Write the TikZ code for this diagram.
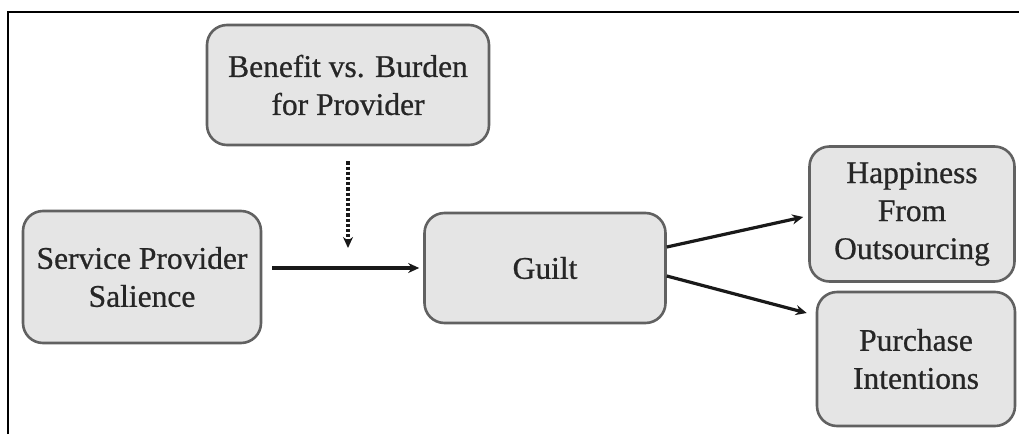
\documentclass[tikz,border=0pt]{standalone}
\usepackage{fontspec}
\setmainfont{Liberation Serif}
\newfontfamily\boxfont[FakeBold=0.7]{Liberation Serif}
\usetikzlibrary{
		calc,
		arrows.meta,
		positioning
	}
\tikzset{
		>={Stealth[length=11pt,width=10pt]},
		box/.style={draw=black!62,fill=black!10,line width=2.6pt,rounded corners=20pt,
			align=center,text=black!85,font=\boxfont\fontsize{31.5}{38}\selectfont,inner sep=0pt},
		arr/.style={->,line width=3.2pt,black!90}
	}
\begin{document}
\begin{tikzpicture}[x=1pt,y=-1pt]
          \useasboundingbox (0,0) rectangle (1019,434);
          \draw[line width=2pt] (8,434) -- (8,12) -- (1019,12);

          \node[box,minimum width=282pt,minimum height=120pt] (B) at (348,85) {Benefit vs. Burden\\for Provider};
          \node[box,minimum width=238pt,minimum height=132pt] (S) at (142,277) {Service Provider\\Salience};
          \node[box,minimum width=241pt,minimum height=110pt] (G) at (545,268) {Guilt};
          \node[box,minimum width=205pt,minimum height=135pt] (H) at (912,214) {Happiness\\From\\Outsourcing};
          \node[box,minimum width=198pt,minimum height=134pt] (P) at (916,359) {Purchase\\Intentions};

          \draw[arr,shorten <=10pt,shorten >=4pt] (S.east |- G.west) -- (G.west);
          \draw[arr,dotted,shorten <=15pt,shorten >=20pt] (B.south) -- (B.south |- G.west);
          \draw[arr] ([yshift=21pt]G.east) -- ([xshift=-5pt,yshift=-3pt]H.west);
          \draw[arr] ([yshift=-8pt]G.east) -- ([xshift=-9pt,yshift=46pt]P.west);% lands high on the box

          \end{tikzpicture}
\end{document}
